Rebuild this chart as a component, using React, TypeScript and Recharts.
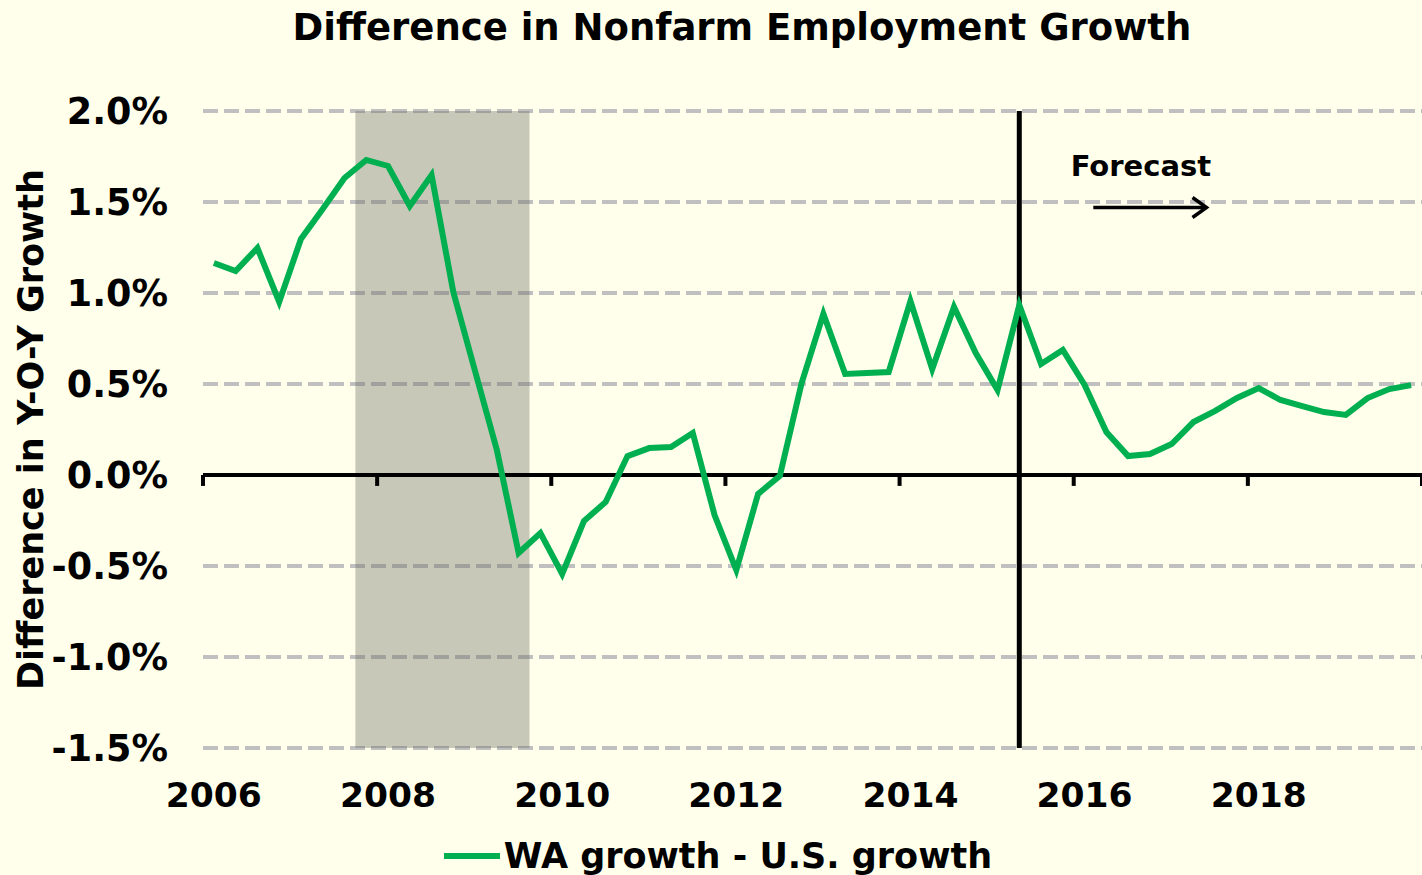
import { LineChart, Line, XAxis, YAxis, CartesianGrid, ReferenceArea, ReferenceLine, Legend } from 'recharts';

const FONT = '"DejaVu Sans", Verdana, sans-serif';
const GREEN = '#00b050';
const BG = '#ffffeb';

// WA growth minus U.S. growth, quarterly 2006Q1 .. 2019Q4 (percentage points)
const YEARS = ['2006', '2008', '2010', '2012', '2014', '2016', '2018'];
const DIFF = [
  1.165, 1.121, 1.247, 0.951,
  1.297, 1.462, 1.632, 1.731,
  1.698, 1.478, 1.648, 1.005,
  0.57, 0.137, -0.429, -0.319,
  -0.544, -0.253, -0.148, 0.104,
  0.148, 0.154, 0.231, -0.22,
  -0.522, -0.104, -0.005, 0.505,
  0.885, 0.555, 0.56, 0.566,
  0.956, 0.582, 0.923, 0.67,
  0.467, 0.934, 0.61, 0.687,
  0.495, 0.236, 0.104, 0.115,
  0.17, 0.291, 0.352, 0.423,
  0.478, 0.412, 0.379, 0.346,
  0.33, 0.423, 0.472, 0.494,
];
const Y_TICKS = [-1.5, -1.0, -0.5, 0.0, 0.5, 1.0, 1.5, 2.0];

// recession shading: 2007Q4 .. 2009Q2 (quarter indexes)
const RECESSION = [7, 15];
// forecast starts at 2015Q2
const FORECAST_START = 37;
const ARROW = { y: 1.47, from: 40.9, to: 46.1 };

const data = DIFF.map((v, i) => ({ x: i + 0.5, diff: v }));
const yearTicks = YEARS.map((_, i) => i * 8 + 0.5);
const yearBounds = YEARS.map((_, i) => i * 8).concat([56]);

const Arrow = (props: any) => {
  const { x1, y1, x2, y2 } = props;
  return (
    <g>
      <line x1={x1} y1={y1} x2={x2} y2={y2} stroke="#000" strokeWidth={3.5} />
      <polyline points={`${x2 - 14},${y2 - 10} ${x2},${y2} ${x2 - 14},${y2 + 10}`} fill="none" stroke="#000" strokeWidth={3.5} />
    </g>
  );
};

const LegendBox = () => (
  <div style={{ display: 'flex', justifyContent: 'center', alignItems: 'center', fontFamily: FONT, fontWeight: 'bold', fontSize: 35, color: '#000' }}>
    <svg width={56} height={10} style={{ marginRight: 4 }}>
      <line x1={0} y1={5} x2={56} y2={5} stroke={GREEN} strokeWidth={6} />
    </svg>
    <span>WA growth - U.S. growth</span>
  </div>
);

export default function App() {
  return (
    <div style={{ position: 'absolute', left: 0, top: 0, width: 1422, height: 875, background: BG, overflow: 'hidden' }}>
      <div style={{ position: 'absolute', left: 142, top: 8, width: 1200, textAlign: 'center', fontFamily: FONT, fontWeight: 'bold', fontSize: 37, lineHeight: '40px', color: '#000' }}>
        Difference in Nonfarm Employment Growth
      </div>
      <LineChart width={1422} height={875} data={data} margin={{ top: 111, right: 0, left: 0, bottom: 67 }}>
        <CartesianGrid
          vertical={false}
          horizontalValues={[-1.5, -1.0, -0.5, 0.5, 1.0, 1.5, 2.0]}
          stroke="#c0c0c0"
          strokeWidth={4}
          strokeDasharray="15 6"
        />
        <XAxis
          dataKey="x"
          type="number"
          domain={[0, 56]}
          ticks={yearTicks}
          interval={0}
          tickFormatter={(v: number) => YEARS[Math.round((v - 0.5) / 8)]}
          axisLine={false}
          tickLine={false}
          tickSize={0}
          tickMargin={35}
          height={60}
          tick={{ fill: '#000', fontSize: 34.5, fontWeight: 'bold', fontFamily: FONT }}
        />
        <YAxis
          type="number"
          domain={[-1.5, 2.0]}
          ticks={Y_TICKS}
          interval={0}
          tickFormatter={(v: number) => `${v.toFixed(1)}%`}
          axisLine={false}
          tickLine={false}
          tickSize={0}
          tickMargin={35}
          width={203}
          tick={{ fill: '#000', fontSize: 36.5, fontWeight: 'bold', fontFamily: FONT }}
          label={{
            value: 'Difference in Y-O-Y Growth',
            angle: -90,
            position: 'insideLeft',
            offset: 31,
            textAnchor: 'middle',
            fill: '#000',
            fontSize: 35,
            fontWeight: 'bold',
            fontFamily: FONT,
          }}
        />
        <ReferenceArea x1={RECESSION[0]} x2={RECESSION[1]} y1={-1.5} y2={2.0} fill="#68685f" fillOpacity={0.365} stroke="none" />
        <ReferenceLine y={0} stroke="#000" strokeWidth={4} />
        {yearBounds.map((b) => (
          <ReferenceLine key={b} segment={[{ x: b, y: 0 }, { x: b, y: -0.06 }]} stroke="#000" strokeWidth={4} ifOverflow="extendDomain" />
        ))}
        <ReferenceLine x={FORECAST_START + 0.5} stroke="#000" strokeWidth={5} />
        <ReferenceLine
          segment={[{ x: ARROW.from, y: ARROW.y }, { x: ARROW.to, y: ARROW.y }]}
          shape={Arrow}
          label={{ value: 'Forecast', position: 'top', offset: 31, dx: -9, fill: '#000', fontSize: 29, fontWeight: 'bold', fontFamily: FONT }}
        />
        <Line type="linear" dataKey="diff" stroke={GREEN} strokeWidth={6} dot={false} isAnimationActive={false} name="WA growth - U.S. growth" />
        <Legend
          layout="horizontal"
          verticalAlign="middle"
          align="center"
          wrapperStyle={{ top: 836, left: 0, width: 1436 }}
          content={LegendBox}
        />
      </LineChart>
    </div>
  );
}
